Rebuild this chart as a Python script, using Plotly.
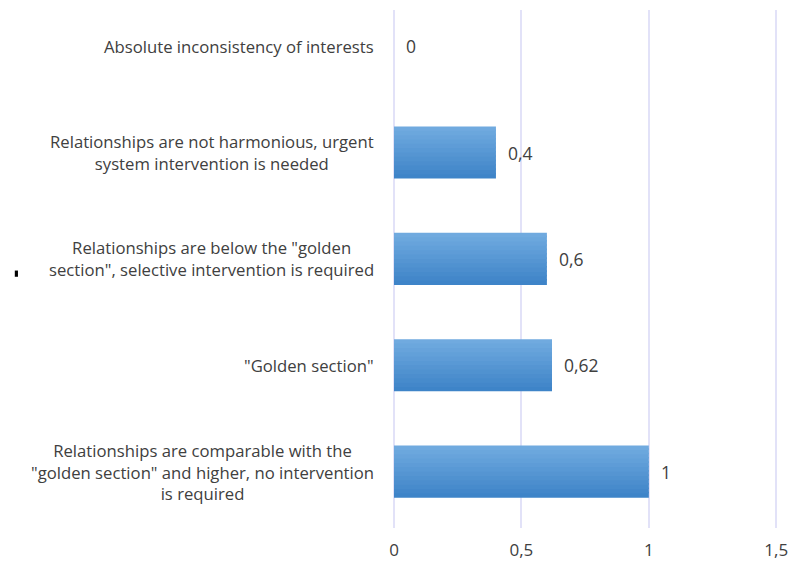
import plotly.graph_objects as go

categories = [
    "Relationships are comparable with the<br>\"golden section\" and higher, no intervention<br>is required",
    "\"Golden section\"",
    "Relationships are below the \"golden<br>section\", selective intervention is required",
    "Relationships are not harmonious, urgent<br>system intervention is needed",
    "Absolute inconsistency of interests",
]
values = [1, 0.62, 0.6, 0.4, 0]
value_labels = ["1", "0,62", "0,6", "0,4", "0"]
tick_vals = [0, 0.5, 1, 1.5]
tick_text = ["0", "0,5", "1", "1,5"]

ypos = list(range(len(categories)))

# vertical gradient on bars, drawn as thin horizontal bar strips
top_rgb = (112, 170, 223)
bot_rgb = (62, 132, 200)
n_strips = 12
bar_w = 0.49
step = bar_w / n_strips

fig = go.Figure()
for i in range(n_strips):
    f = i / (n_strips - 1)
    col = tuple(round(b + (t - b) * f) for t, b in zip(top_rgb, bot_rgb))
    w = step if i == n_strips - 1 else step + 0.015
    fig.add_trace(go.Bar(
        x=values, y=ypos, orientation="h",
        width=w,
        offset=-bar_w / 2 + i * step,
        marker=dict(color="rgb(%d,%d,%d)" % col, line=dict(width=0)),
        hoverinfo="skip",
    ))

annotations = []
for y, v, t in zip(ypos, values, value_labels):
    annotations.append(dict(x=v, y=y, xref="x", yref="y", text=t, showarrow=False,
                            xanchor="left", xshift=10,
                            font=dict(family="Open Sans", size=17.5, color="#404040")))
for y, c in zip(ypos, categories):
    annotations.append(dict(x=0, y=y, xref="paper", yref="y", text=c, showarrow=False,
                            xanchor="right", align="center", xshift=-18,
                            font=dict(family="Open Sans", size=16.7, color="#404040")))

fig.update_layout(
    width=789, height=562,
    margin=dict(l=394, r=0, t=10, b=34),
    paper_bgcolor="white", plot_bgcolor="white",
    showlegend=False, barmode="overlay",
    annotations=annotations,
    shapes=[dict(type="rect", xref="paper", yref="paper", x0=-0.96, x1=-0.952,
                 y0=0.485, y1=0.497, fillcolor="black", line=dict(width=0))],
    xaxis=dict(range=[0, 1.55], tickvals=tick_vals, ticktext=tick_text,
               showgrid=True, gridcolor="#e2e2f8", gridwidth=2,
               zeroline=True, zerolinecolor="#e2e2f8", zerolinewidth=2,
               showline=False, ticklabelstandoff=10,
               tickfont=dict(family="Open Sans", size=17, color="#404040")),
    yaxis=dict(range=[-0.53, 4.34], showticklabels=False, showgrid=False,
               zeroline=False, showline=False),
)

fig.write_html("out.html")
